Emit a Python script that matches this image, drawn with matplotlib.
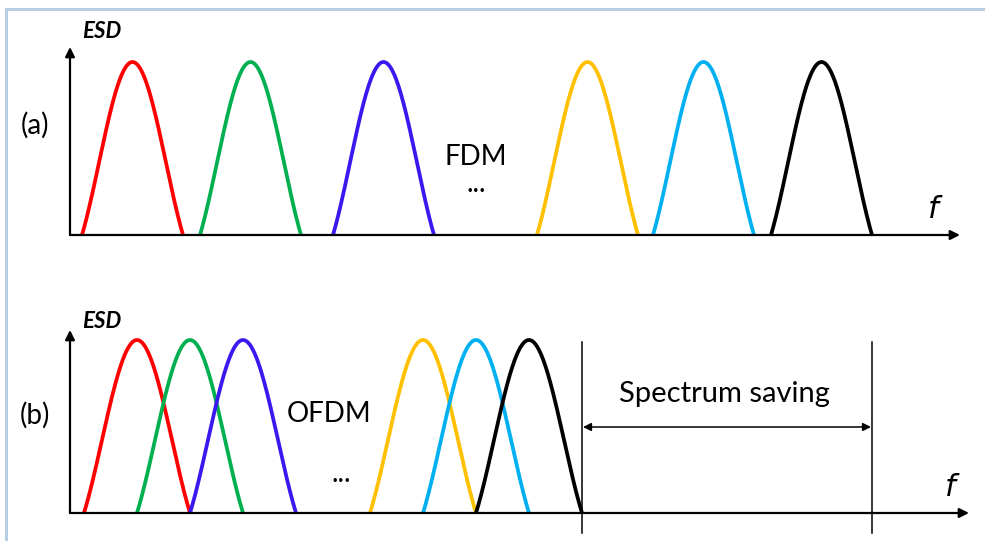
import numpy as np
import matplotlib.pyplot as plt
from matplotlib.patches import FancyArrowPatch

# ---------------------------------------------------------
# Carrier layout (pixel units of the original drawing)
# ---------------------------------------------------------

fdm_starts = [82, 200, 333, 537, 653, 771]
fdm_width = 101
ofdm_starts = [84, 137, 190, 370, 423, 476]
ofdm_width = 106
carrier_colors = ["#FF0000", "#00B050", "#3A18F0", "#FFC000", "#00B0F0", "#000000"]

base_a, peak_a = 235, 62
base_b, peak_b = 513, 340
saving_left, saving_right = 582, 872


def arch(start, width, base, peak):
    # main lobe of a sinc spectrum
    x = np.linspace(start, start + width, 300)
    u = 2 * (x - start) / width - 1
    y = base - (base - peak) * np.sinc(u)
    return x, y


def axis_arrow(ax, x0, y0, x1, y1):
    ax.add_patch(FancyArrowPatch((x0, y0), (x1, y1), arrowstyle="-|>",
                                 mutation_scale=14, lw=1.6, color="black",
                                 shrinkA=0, shrinkB=0, zorder=4))


def main():

    fig = plt.figure(figsize=(9.85, 5.41), dpi=100)
    ax = fig.add_axes([0, 0, 1, 1])
    ax.set_xlim(0, 985)
    ax.set_ylim(541, 0)
    ax.axis("off")

    font = "Lato"
    fs = 20

    # frame
    ax.plot([5.5, 985], [9, 9], color="#B8CCE4", lw=2.2)
    ax.plot([5.5, 5.5], [9, 541], color="#B8CCE4", lw=2.2)

    # ---- panel (a) FDM ----
    for s, c in zip(fdm_starts, carrier_colors):
        x, y = arch(s, fdm_width, base_a, peak_a)
        ax.plot(x, y, color=c, lw=2.7, solid_capstyle="butt", zorder=3)

    axis_arrow(ax, 70, base_a, 960, base_a)
    axis_arrow(ax, 70, base_a, 70, 47)

    ax.text(102, 38, "ESD", fontsize=16, fontweight="bold", style="italic",
            ha="center", va="baseline", family=font)
    ax.text(35, 125, "(a)", fontsize=fs, ha="center", va="center", family=font)
    ax.text(476, 165, "FDM", fontsize=fs, ha="center", va="baseline", family=font)
    ax.text(476, 192, "...", fontsize=fs, ha="center", va="baseline", family=font)
    ax.text(935, 210, "$f$", fontsize=22, ha="center", va="center")

    # ---- panel (b) OFDM ----
    for s, c in zip(ofdm_starts, carrier_colors):
        x, y = arch(s, ofdm_width, base_b, peak_b)
        ax.plot(x, y, color=c, lw=2.7, solid_capstyle="butt", zorder=3)

    axis_arrow(ax, 70, base_b, 969, base_b)
    axis_arrow(ax, 70, base_b, 70, 330)

    ax.text(102, 328, "ESD", fontsize=16, fontweight="bold", style="italic",
            ha="center", va="baseline", family=font)
    ax.text(35, 415, "(b)", fontsize=fs, ha="center", va="center", family=font)
    ax.text(329, 422, "OFDM", fontsize=fs, ha="center", va="baseline", family=font)
    ax.text(341, 482, "...", fontsize=fs, ha="center", va="baseline", family=font)
    ax.text(952, 488, "$f$", fontsize=22, ha="center", va="center")

    # spectrum saving marker
    for xv in (saving_left, saving_right):
        ax.plot([xv, xv], [342, 533], color="black", lw=1.1, zorder=2)
    ax.add_patch(FancyArrowPatch((saving_left + 1, 427), (saving_right - 1, 427),
                                 arrowstyle="<|-|>", mutation_scale=12, lw=1.1,
                                 color="black", shrinkA=0, shrinkB=0))
    ax.text(724, 402, "Spectrum saving", fontsize=21, ha="center", va="baseline",
            family=font)

    fig.savefig("out.png", dpi=100)


if __name__ == "__main__":
    main()
